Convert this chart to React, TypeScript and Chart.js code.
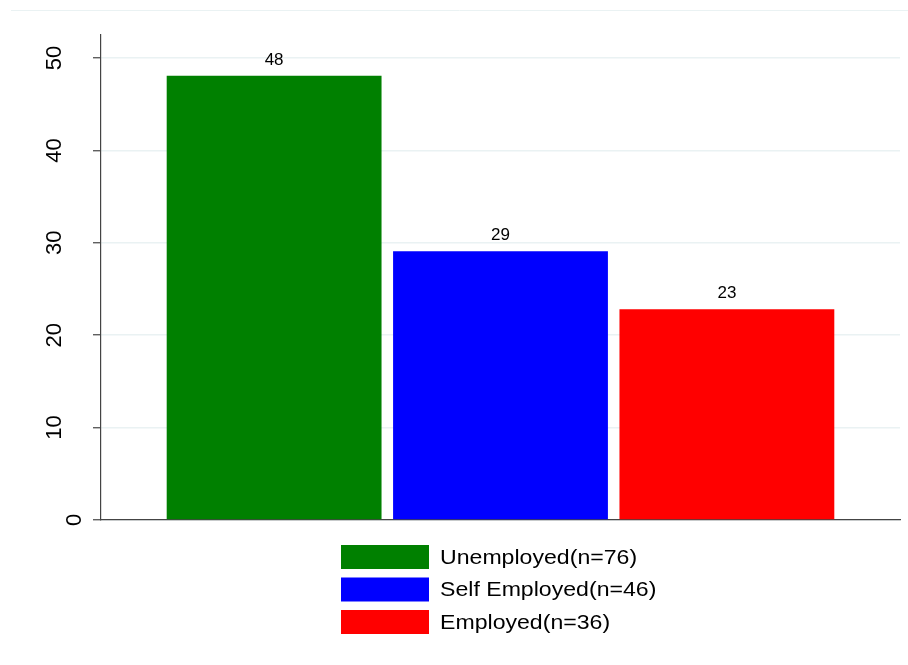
import React, { useEffect, useRef } from "react";
import { Chart, registerables } from "chart.js";

Chart.register(...registerables);

const categories = [""];
const seriesNames = ["Unemployed(n=76)", "Self Employed(n=46)", "Employed(n=36)"];
const seriesValues = [48.1, 29.1, 22.8];
const valueLabels = ["48", "29", "23"];
const seriesColors = ["#008000", "#0000ff", "#ff0000"];
const yTicks = [0, 10, 20, 30, 40, 50];
const yTickLabels = ["0", "10", "20", "30", "40", "50"];

const FONT = "'Liberation Sans', Arial, Helvetica, sans-serif";

const decorPlugin = {
  id: "decor",
  beforeDraw(chart: any) {
    const ctx = chart.ctx;
    ctx.save();
    ctx.strokeStyle = "#eaf2f3";
    ctx.lineWidth = 1;
    ctx.beginPath();
    ctx.moveTo(11, 10.5);
    ctx.lineTo(chart.width, 10.5);
    ctx.stroke();
    ctx.restore();
  },
  afterDraw(chart: any) {
    const ctx = chart.ctx;
    const ys = chart.scales.y;
    const area = chart.chartArea;
    ctx.save();
    // y tick labels, rotated
    ctx.fillStyle = "#000";
    ctx.font = `22px ${FONT}`;
    ctx.textAlign = "center";
    ctx.textBaseline = "middle";
    yTicks.forEach((v, i) => {
      const py = ys.getPixelForValue(v);
      const px = v === 0 ? area.left - 26 : area.left - 46;
      ctx.save();
      ctx.translate(px, py);
      ctx.rotate(-Math.PI / 2);
      ctx.fillText(yTickLabels[i], 0, 0);
      ctx.restore();
    });
    // value labels
    ctx.font = `17px ${FONT}`;
    ctx.textBaseline = "alphabetic";
    chart.data.datasets.forEach((ds: any, i: number) => {
      const meta = chart.getDatasetMeta(i);
      const bar = meta.data[0];
      if (!bar) return;
      ctx.fillText(valueLabels[i], bar.x, bar.y - 11);
    });
    // legend
    const boxW = 88, boxH = 24, gap = 11, rowH = 32.5, sx = 1.1;
    ctx.font = `21px ${FONT}`;
    let maxW = 0;
    seriesNames.forEach((n) => { maxW = Math.max(maxW, ctx.measureText(n).width * sx); });
    const total = boxW + gap + maxW;
    const cx = (area.left + area.right) / 2;
    const left = Math.round(cx - total / 2) - 2;
    const top0 = area.bottom + 25;
    ctx.textAlign = "left";
    ctx.textBaseline = "middle";
    seriesNames.forEach((n, i) => {
      const top = top0 + i * rowH;
      ctx.fillStyle = seriesColors[i];
      ctx.fillRect(left, top, boxW, boxH);
      ctx.fillStyle = "#000";
      ctx.save();
      ctx.translate(left + boxW + gap, top + boxH / 2 + 1);
      ctx.scale(sx, 1);
      ctx.fillText(n, 0, 0);
      ctx.restore();
    });
    ctx.restore();
  },
};

export default function App() {
  const ref = useRef<HTMLCanvasElement | null>(null);
  useEffect(() => {
    if (!ref.current) return;
    const chart = new Chart(ref.current, {
      type: "bar",
      data: {
        labels: categories,
        datasets: seriesNames.map((name, i) => ({
          label: name,
          data: [seriesValues[i]],
          backgroundColor: seriesColors[i],
          borderWidth: 0,
          categoryPercentage: 0.85,
          barPercentage: 0.949,
        })),
      },
      options: {
        animation: false,
        responsive: false,
        devicePixelRatio: 1,
        layout: { padding: { top: 35, right: 8, left: 0, bottom: 0 } },
        plugins: { legend: { display: false }, tooltip: { enabled: false } },
        scales: {
          x: {
            grid: { display: false },
            ticks: { display: false },
            border: { display: true, color: "#444", width: 1.2 },
            afterFit: (s: any) => { s.height = 145; },
          },
          y: {
            min: 0,
            max: 52.5,
            ticks: { display: false, stepSize: 10, includeBounds: false },
            grid: { color: "#eaf2f3", lineWidth: 1.5, drawTicks: true, tickLength: 8, tickColor: "#444", tickWidth: 1.2 },
            border: { display: true, color: "#444", width: 1.2 },
            afterFit: (s: any) => { s.width = 101; },
          },
        },
      },
      plugins: [decorPlugin],
    } as any);
    return () => chart.destroy();
  }, []);
  return (
    <div style={{ position: "fixed", left: 0, top: 0, width: 908, height: 665, background: "#fff" }}>
      <canvas ref={ref} width={908} height={665} style={{ width: 908, height: 665, display: "block" }} />
    </div>
  );
}
